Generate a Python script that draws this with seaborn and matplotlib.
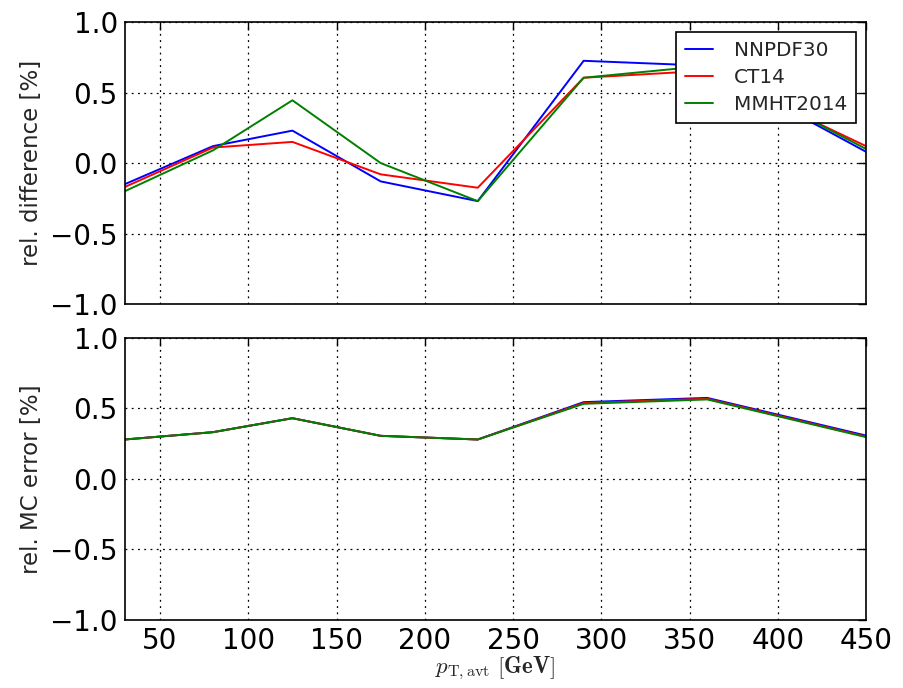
import numpy as np
import pandas as pd
import matplotlib
matplotlib.use("Agg")
import matplotlib.pyplot as plt
import seaborn as sns

# ---- data ----
pt = [30, 80, 125, 175, 230, 290, 360, 450]
series = ["NNPDF30", "CT14", "MMHT2014"]
diff_nnpdf = [-0.15, 0.12, 0.23, -0.13, -0.27, 0.725, 0.69, 0.08]
diff_ct14 = [-0.17, 0.11, 0.15, -0.08, -0.175, 0.605, 0.655, 0.12]
diff_mmht = [-0.20, 0.09, 0.445, 0.0, -0.27, 0.605, 0.69, 0.10]
mc_nnpdf = [0.279, 0.331, 0.430, 0.305, 0.279, 0.544, 0.574, 0.307]
mc_ct14 = [0.279, 0.331, 0.430, 0.305, 0.279, 0.538, 0.568, 0.300]
mc_mmht = [0.279, 0.331, 0.430, 0.305, 0.279, 0.532, 0.563, 0.296]
yticks = [-1.0, -0.5, 0.0, 0.5, 1.0]
ytick_labels = ["\u22121.0", "\u22120.5", "0.0", "0.5", "1.0"]
xticks = [50, 100, 150, 200, 250, 300, 350, 400, 450]

colors = {"NNPDF30": "#0000ff", "CT14": "#ff0000", "MMHT2014": "#008000"}

def long_df(vals):
    rows = []
    for name, v in zip(series, vals):
        for x, y in zip(pt, v):
            rows.append({"pt": x, "val": y, "pdf": name})
    return pd.DataFrame(rows)

df_top = long_df([diff_nnpdf, diff_ct14, diff_mmht])
df_bot = long_df([mc_nnpdf, mc_ct14, mc_mmht])

sns.set_style("white")
plt.rcParams.update({
    "font.family": ["DejaVu Sans"],
    "mathtext.fontset": "cm",
    "xtick.direction": "in",
    "ytick.direction": "in",
    "xtick.top": True,
    "ytick.right": True,
    "xtick.major.size": 6,
    "ytick.major.size": 6,
    "axes.edgecolor": "black",
    "axes.linewidth": 1.2,
})

fig = plt.figure(figsize=(9.04, 6.88), dpi=100)
ax1 = fig.add_axes([0.138, 0.558, 0.820, 0.410])
ax2 = fig.add_axes([0.138, 0.099, 0.820, 0.410])

for ax, df, lab in [(ax1, df_top, "rel. difference [%]"), (ax2, df_bot, "rel. MC error [%]")]:
    sns.lineplot(data=df, x="pt", y="val", hue="pdf", palette=colors,
                 hue_order=series, ax=ax, linewidth=1.4, legend=(ax is ax1),
                 sort=False, estimator=None)
    ax.set_xlim(30, 450)
    ax.set_ylim(-1.0, 1.0)
    ax.set_yticks(yticks)
    ax.set_yticklabels(ytick_labels)
    ax.set_xticks(xticks)
    ax.grid(True, linestyle=(0, (1.5, 3.5)), color="black", linewidth=0.9)
    ax.tick_params(labelsize=20, colors="black", width=1, pad=5)
    ax.set_ylabel(lab, fontsize=16.5)
    ax.set_xlabel("")
    ax.yaxis.set_label_coords(-0.11, 0.5)
    for s in ax.spines.values():
        s.set_visible(True)
        s.set_color("black")

ax1.tick_params(labelbottom=False)
ax2.set_xlabel(r"$p_{\mathrm{T,avt}}\ [\mathbf{GeV}]$", fontsize=16.5, labelpad=0)

leg = ax1.legend(loc="upper right", fontsize=14.4, frameon=True, fancybox=False,
                 edgecolor="black", framealpha=1, handlelength=1.4,
                 handletextpad=1.05, borderpad=0.45, labelspacing=0.42,
                 borderaxespad=0.48)
leg.get_frame().set_linewidth(1.2)

fig.savefig("out.png", dpi=100)
